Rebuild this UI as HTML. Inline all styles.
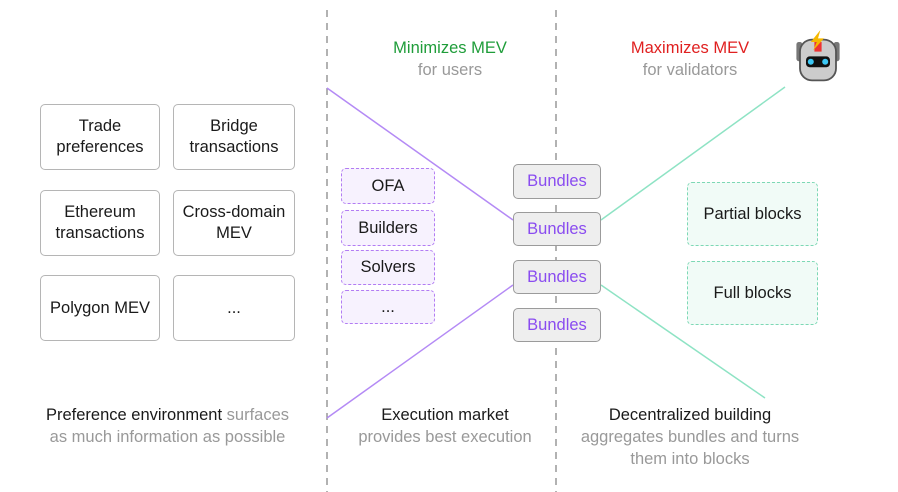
<!DOCTYPE html>
<html><head><meta charset="utf-8"><style>
body{margin:0;width:898px;height:492px;background:#fff;font-family:"Liberation Sans",sans-serif;position:relative;overflow:hidden}
.a{position:absolute;box-sizing:border-box;display:flex;align-items:center;justify-content:center;text-align:center}
.w{border:1.5px solid #b5b5b5;border-radius:5px;font-size:16.5px;color:#1a1a1a;line-height:21px;background:#fff}
.p{border:1.5px dashed #b27cf3;border-radius:5px;background:#f7f2fe;font-size:16.5px;color:#1a1a1a}
.b{border:1.5px solid #9b9b9b;border-radius:5px;background:#eeeeee;font-size:16.5px;color:#8a4cf0}
.g{border:1.5px dashed #7dd8b5;border-radius:5px;background:#f1fbf7;font-size:16.5px;color:#1a1a1a}
.t{position:absolute;text-align:center;font-size:16.5px;line-height:22px;color:#1a1a1a}
.gr{color:#999}
</style></head><body>
<svg width="898" height="492" style="position:absolute;left:0;top:0">
<line x1="327" y1="10" x2="327" y2="492" stroke="#888" stroke-dasharray="7,6" stroke-width="1.3"/>
<line x1="556" y1="10" x2="556" y2="492" stroke="#888" stroke-dasharray="7,6" stroke-width="1.3"/>
<line x1="327" y1="88" x2="513" y2="220" stroke="#b48af5" stroke-width="1.5"/>
<line x1="327" y1="418" x2="513" y2="285" stroke="#b48af5" stroke-width="1.5"/>
<line x1="601" y1="220" x2="785" y2="87" stroke="#8ee3c4" stroke-width="1.5"/>
<line x1="601" y1="285" x2="765" y2="398" stroke="#8ee3c4" stroke-width="1.5"/>
<g transform="translate(794,30) scale(1.2)">
<rect x="2" y="10" width="5" height="16" rx="2" fill="#777"/><rect x="33" y="10" width="5" height="16" rx="2" fill="#777"/>
<rect x="5" y="8" width="30" height="34" rx="10" fill="#ccc" stroke="#555" stroke-width="1.5"/>
<rect x="10" y="22" width="20" height="9" rx="3" fill="#111"/>
<circle cx="14" cy="26.5" r="2.5" fill="#3cc8f5"/><circle cx="26" cy="26.5" r="2.5" fill="#3cc8f5"/>
<rect x="17" y="10" width="6" height="8" fill="#e33"/>
<polygon points="22,0 14,10 19,10 16,17 25,7 20,7" fill="#f5b800"/>
</g>
</svg>
<div class="a w" style="left:40px;top:104px;width:120px;height:66px">Trade<br>preferences</div>
<div class="a w" style="left:173px;top:104px;width:122px;height:66px">Bridge<br>transactions</div>
<div class="a w" style="left:40px;top:190px;width:120px;height:66px">Ethereum<br>transactions</div>
<div class="a w" style="left:173px;top:190px;width:122px;height:66px">Cross-domain<br>MEV</div>
<div class="a w" style="left:40px;top:275px;width:120px;height:66px">Polygon MEV</div>
<div class="a w" style="left:173px;top:275px;width:122px;height:66px">...</div>
<div class="a p" style="left:341px;top:168px;width:94px;height:36px">OFA</div>
<div class="a p" style="left:341px;top:210px;width:94px;height:36px">Builders</div>
<div class="a p" style="left:341px;top:250px;width:94px;height:35px">Solvers</div>
<div class="a p" style="left:341px;top:290px;width:94px;height:34px">...</div>
<div class="a b" style="left:513px;top:164px;width:88px;height:35px">Bundles</div>
<div class="a b" style="left:513px;top:212px;width:88px;height:34px">Bundles</div>
<div class="a b" style="left:513px;top:260px;width:88px;height:34px">Bundles</div>
<div class="a b" style="left:513px;top:308px;width:88px;height:34px">Bundles</div>
<div class="a g" style="left:687px;top:182px;width:131px;height:64px">Partial blocks</div>
<div class="a g" style="left:687px;top:261px;width:131px;height:64px">Full blocks</div>
<div class="t" style="left:350px;top:37px;width:200px"><span style="color:#1f9d3a">Minimizes MEV</span><br><span class="gr">for users</span></div>
<div class="t" style="left:590px;top:37px;width:200px"><span style="color:#e02020">Maximizes MEV</span><br><span class="gr">for validators</span></div>
<div class="t" style="left:15px;top:404px;width:305px">Preference environment <span class="gr">surfaces</span><br><span class="gr">as much information as possible</span></div>
<div class="t" style="left:335px;top:404px;width:220px">Execution market<br><span class="gr">provides best execution</span></div>
<div class="t" style="left:560px;top:404px;width:260px">Decentralized building<br><span class="gr">aggregates bundles and turns<br>them into blocks</span></div>
</body></html>
